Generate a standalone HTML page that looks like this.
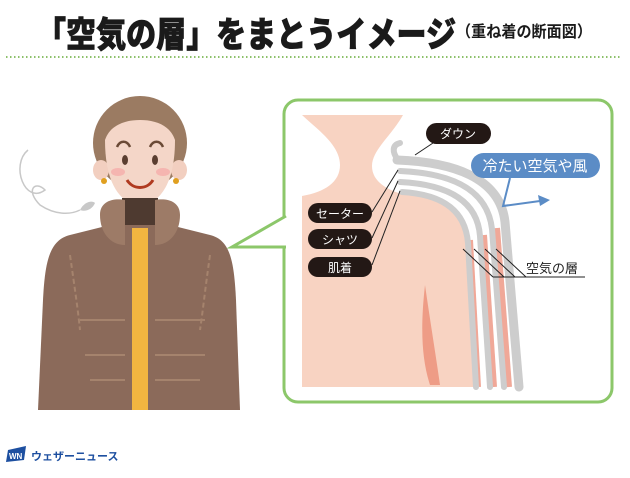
<!DOCTYPE html>
<html><head><meta charset="utf-8"><style>
body{margin:0;background:#fff;width:630px;height:473px;overflow:hidden;font-family:"Liberation Sans","Noto Sans CJK JP",sans-serif}
</style></head><body>
<svg width="630" height="473" viewBox="0 0 630 473" xmlns="http://www.w3.org/2000/svg" font-family="'Liberation Sans','Noto Sans CJK JP',sans-serif">
<text x="36" y="47" font-size="35" font-weight="900" fill="#1a1a1a" stroke="#1a1a1a" stroke-width="0.8" textLength="420" lengthAdjust="spacingAndGlyphs">「空気の層」をまとうイメージ</text>
<text x="456" y="37" font-size="16" font-weight="700" fill="#1a1a1a" textLength="136" lengthAdjust="spacingAndGlyphs">（重ね着の断面図）</text>
<line x1="6" y1="57" x2="620" y2="57" stroke="#8cc06a" stroke-width="2" stroke-dasharray="1.5 2.5"/>

<!-- person -->
<path d="M28,150 C10,165 25,205 45,190 C35,180 25,190 40,205 C55,215 70,215 80,210" fill="none" stroke="#c8c8c8" stroke-width="1.5"/>
<path d="M80,210 C84,202 92,200 95,203 C92,210 85,212 80,210Z" fill="#c8c8c8"/>
<ellipse cx="140" cy="143" rx="47" ry="47" fill="#9b7b62"/>
<ellipse cx="101" cy="170" rx="8" ry="10" fill="#f2cfc0"/>
<ellipse cx="179" cy="170" rx="8" ry="10" fill="#f2cfc0"/>
<path d="M105,140 C105,190 125,205 140,205 C155,205 175,190 175,140 C170,125 155,120 140,120 C125,120 110,125 105,140Z" fill="#f4d6c8"/>
<circle cx="104" cy="181" r="3" fill="#e0a020"/><circle cx="176" cy="181" r="3" fill="#e0a020"/>
<ellipse cx="125" cy="160" rx="3" ry="5" fill="#5a3e30"/><ellipse cx="155" cy="160" rx="3" ry="5" fill="#5a3e30"/>
<path d="M117,147 C120,140 127,140 130,147" fill="none" stroke="#6b4a36" stroke-width="2.5"/>
<path d="M150,147 C153,140 160,140 163,147" fill="none" stroke="#6b4a36" stroke-width="2.5"/>
<ellipse cx="118" cy="172" rx="7" ry="4" fill="#f5b5b0"/><ellipse cx="163" cy="172" rx="7" ry="4" fill="#f5b5b0"/>
<path d="M127,180 C133,190 147,190 153,180" fill="none" stroke="#b03a20" stroke-width="3"/>
<rect x="122" y="198" width="36" height="30" fill="#4e3a30"/>
<path d="M70,235 C50,240 45,260 43,300 L38,410 L240,410 L236,300 C234,260 230,240 210,235 L170,225 L110,225Z" fill="#8b6a5a"/>
<path d="M100,215 C100,200 115,198 125,200 L125,245 C110,245 100,232 100,215Z M180,215 C180,200 165,198 155,200 L155,245 C170,245 180,232 180,215Z" fill="#9d7b67"/>
<rect x="132" y="228" width="16" height="182" fill="#f2b540"/>
<path d="M80,320 H125 M155,320 H205 M85,355 H125 M155,355 H205 M90,380 H125 M155,380 H200" stroke="#a5836d" stroke-width="2"/>
<path d="M70,255 C75,290 78,310 80,330 M210,255 C205,290 203,310 200,330" stroke="#a5836d" stroke-width="2" stroke-dasharray="5 3" fill="none"/>

<!-- panel -->
<rect x="284" y="100" width="328" height="302" rx="14" fill="#fff" stroke="#8cc76a" stroke-width="3"/>
<path d="M286,216 L232,247 L286,247" fill="#fff" stroke="#8cc76a" stroke-width="3" stroke-linejoin="miter"/>
<rect x="287" y="218" width="4" height="28" fill="#fff"/>

<path d="M302,115 L403,115 C392,135 372,150 372,166 C372,182 388,190 402,194 C440,197 463,208 466,245 L474,387 L302,387 L302,196 C325,192 340,182 340,165 C340,145 318,130 302,115Z" fill="#f8d3c2"/>
<path d="M425,285 C420,330 422,360 430,385 L440,385 C435,350 430,320 425,285Z" fill="#ee9c86"/>
<g fill="none" stroke-width="6" stroke="#f0a898">
<path d="M470,240 L478,387"/>
<path d="M484,235 L494,387"/>
<path d="M497,228 L509,387"/>
</g>
<g fill="none" stroke="#cdcdcd" stroke-linecap="round">
<path d="M397,160 C452,162 500,177 505,222 L519,387" stroke-width="9"/>
<path d="M400,171 C446,173 487,186 492,229 L504,387" stroke-width="6"/>
<path d="M400,182 C440,184 477,196 480,236 L490,387" stroke-width="6"/>
<path d="M402,192 C436,194 465,206 468,243 L476,387" stroke-width="6"/>
<path d="M398,160 C392,152 392,145 400,143" stroke-width="6"/>
</g>
<g stroke="#222" stroke-width="1" fill="none">
<path d="M415,155 L436,141"/>
<path d="M372,212 L398,170"/>
<path d="M372,238 L398,181"/>
<path d="M372,265 L400,191"/>
<path d="M463,249 L493,277 M474,249 L504,277 M485,249 L515,277 M496,249 L526,277 M493,277 H585"/>
</g>
<rect x="426" y="123" width="65" height="21" rx="10.5" fill="#231815"/>
<text x="458" y="138" font-size="12" fill="#fff" text-anchor="middle">ダウン</text>
<rect x="308" y="203" width="64" height="20" rx="10" fill="#231815"/>
<text x="340" y="218" font-size="12" fill="#fff" text-anchor="middle">セーター</text>
<rect x="308" y="229" width="64" height="20" rx="10" fill="#231815"/>
<text x="340" y="244" font-size="12" fill="#fff" text-anchor="middle">シャツ</text>
<rect x="308" y="257" width="64" height="20" rx="10" fill="#231815"/>
<text x="340" y="272" font-size="12" fill="#fff" text-anchor="middle">肌着</text>
<text x="526" y="273" font-size="13" fill="#222">空気の層</text>
<rect x="471" y="153" width="129" height="25" rx="12.5" fill="#5b8cc6"/>
<text x="535" y="171" font-size="15" fill="#fff" text-anchor="middle">冷たい空気や風</text>
<path d="M510,178 L503,206 L540,201" fill="none" stroke="#5b8cc6" stroke-width="2"/>
<path d="M550,200 L538,195 L540,206Z" fill="#5b8cc6"/>

<path d="M8,450 L26,446 L24,460 L6,462Z" fill="#1d4fa0"/>
<text x="9" y="459" font-size="8" font-weight="700" fill="#fff">WN</text>
<text x="31" y="460" font-size="11" font-weight="700" fill="#1d4fa0">ウェザーニュース</text>
</svg>
</body></html>
